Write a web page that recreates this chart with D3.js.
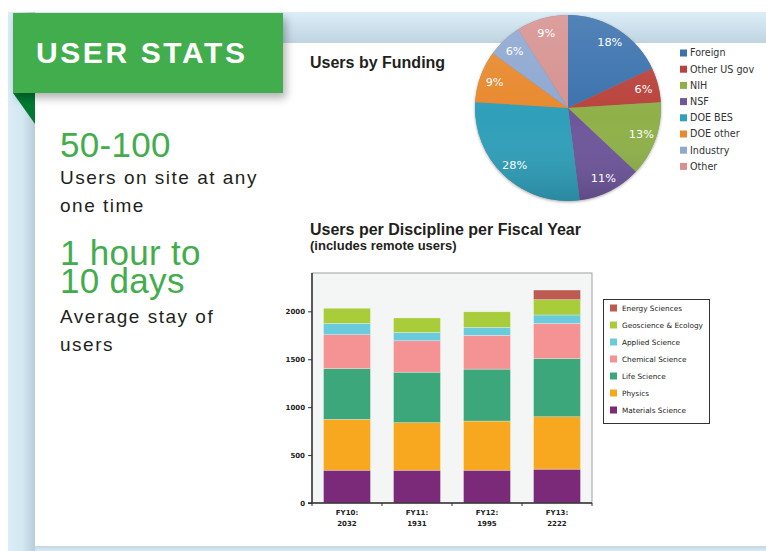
<!DOCTYPE html>
<html>
<head>
<meta charset="utf-8">
<script src="https://cdn.jsdelivr.net/npm/d3@7/dist/d3.min.js"></script>
<style>
  body { margin: 0; background: #fff; }
  svg { display: block; }
</style>
</head>
<body>
<div id="chart"></div>
<script>
// funding pie
const fundingLabels = ["Foreign", "Other US gov", "NIH", "NSF", "DOE BES", "DOE other", "Industry", "Other"]
const fundingShares = [18, 6, 13, 11, 28, 9, 6, 9]
const fundingColors = ["#3b72ae", "#b9433c", "#8fb049", "#6e569b", "#2f9fba", "#e8892e", "#8ea8d1", "#d69290"]

// users per discipline per fiscal year
const years = ["FY10:", "FY11:", "FY12:", "FY13:"]
const yearTotals = ["2032", "1931", "1995", "2222"]
const disciplines = ["Materials Science", "Physics", "Life Science", "Chemical Science", "Applied Science", "Geoscience & Ecology", "Energy Sciences"]
const materialsScience = [342, 342, 342, 353]
const physics = [531, 496, 513, 547]
const lifeScience = [530, 527, 542, 608]
const chemicalScience = [353, 328, 352, 366]
const appliedScience = [118, 87, 84, 88]
const geoscience = [158, 151, 162, 160]
const energySciences = [0, 0, 0, 100]
const disciplineColors = ["#7b2979", "#f8a81f", "#3ba77a", "#f49294", "#69cbdc", "#a9cc3a", "#bd5a52"]
const yTicks = [0, 500, 1000, 1500, 2000]

const W = 766, H = 551
const svg = d3.select("#chart").append("svg")
  .attr("width", W)
  .attr("height", H)

const defs = svg.append("defs")

let topBand = defs.append("linearGradient").attr("id", "topBand").attr("x1", 0).attr("y1", 0).attr("x2", 0).attr("y2", 1)
topBand.append("stop").attr("offset", "0%").attr("stop-color", "#dceef8")
topBand.append("stop").attr("offset", "100%").attr("stop-color", "#bfd4e0")

let leftBand = defs.append("linearGradient").attr("id", "leftBand").attr("x1", 0).attr("y1", 0).attr("x2", 1).attr("y2", 0)
leftBand.append("stop").attr("offset", "0%").attr("stop-color", "#dbeef8")
leftBand.append("stop").attr("offset", "55%").attr("stop-color", "#d3e7f1")
leftBand.append("stop").attr("offset", "100%").attr("stop-color", "#b7cdd9")

let bottomBand = defs.append("linearGradient").attr("id", "bottomBand").attr("x1", 0).attr("y1", 0).attr("x2", 0).attr("y2", 1)
bottomBand.append("stop").attr("offset", "0%").attr("stop-color", "#c2d6e2")
bottomBand.append("stop").attr("offset", "100%").attr("stop-color", "#d8ebf5")

let pieShade = defs.append("linearGradient").attr("id", "pieShade").attr("x1", 0).attr("y1", 0).attr("x2", 0).attr("y2", 1)
pieShade.append("stop").attr("offset", "0%").attr("stop-color", "#fff").attr("stop-opacity", 0.12)
pieShade.append("stop").attr("offset", "55%").attr("stop-color", "#fff").attr("stop-opacity", 0)
pieShade.append("stop").attr("offset", "100%").attr("stop-color", "#000").attr("stop-opacity", 0.14)

defs.append("filter").attr("id", "bannerShadow").attr("x", "-10%").attr("y", "-10%").attr("width", "130%").attr("height", "160%")
  .append("feDropShadow").attr("dx", 3).attr("dy", 5).attr("stdDeviation", 4).attr("flood-color", "#000").attr("flood-opacity", 0.3)

defs.append("filter").attr("id", "pieShadow").attr("x", "-20%").attr("y", "-20%").attr("width", "140%").attr("height", "140%")
  .append("feDropShadow").attr("dx", 0).attr("dy", 1).attr("stdDeviation", 1.5).attr("flood-color", "#000").attr("flood-opacity", 0.35)

// page background
svg.append("rect").attr("x", 35).attr("y", 12).attr("width", W - 35).attr("height", 31).attr("fill", "url(#topBand)")
svg.append("rect").attr("x", 8).attr("y", 12).attr("width", 27).attr("height", H - 12).attr("fill", "url(#leftBand)")
svg.append("rect").attr("x", 35).attr("y", 546).attr("width", W - 35).attr("height", 5).attr("fill", "url(#bottomBand)")
svg.append("rect").attr("x", 35).attr("y", 43).attr("width", W - 35).attr("height", 503).attr("fill", "#fff")

// banner
svg.append("path").attr("d", "M13,93 L35,93 L35,124 Z").attr("fill", "#007a32")
svg.append("rect").attr("x", 13).attr("y", 13).attr("width", 270).attr("height", 80)
  .attr("fill", "#43ad4d").attr("filter", "url(#bannerShadow)")
svg.append("text").attr("x", 36).attr("y", 63)
  .attr("font-family", "Liberation Sans, Arial, sans-serif").attr("font-weight", "bold")
  .attr("font-size", 30).attr("letter-spacing", 2.6).attr("fill", "#fff")
  .text("USER STATS")

// left hand stats
const stats = [
  {text: "50-100", y: 157, big: true},
  {text: "Users on site at any", y: 184},
  {text: "one time", y: 212},
  {text: "1 hour to", y: 265, big: true},
  {text: "10 days", y: 293, big: true},
  {text: "Average stay of", y: 323},
  {text: "users", y: 351}
]
svg.append("g").selectAll("text").data(stats).join("text")
  .attr("x", 60)
  .attr("y", d => d.y)
  .attr("font-family", "Liberation Sans, Arial, sans-serif")
  .attr("font-size", d => d.big ? 35 : 19)
  .attr("letter-spacing", d => d.big ? 0.3 : 1.5)
  .attr("fill", d => d.big ? "#43ad4d" : "#231f20")
  .text(d => d.text)

// pie chart
svg.append("text").attr("x", 310).attr("y", 68)
  .attr("font-family", "Liberation Sans, Arial, sans-serif").attr("font-weight", "bold")
  .attr("font-size", 16).attr("fill", "#231f20")
  .text("Users by Funding")

const pieCx = 568, pieCy = 108, pieR = 93
const pie = d3.pie().sort(null).value(d => d)
const slices = pie(fundingShares)
const arc = d3.arc().innerRadius(0).outerRadius(pieR)
const labelArc = d3.arc().innerRadius(78).outerRadius(78)

const pieG = svg.append("g").attr("transform", `translate(${pieCx},${pieCy})`)
pieG.append("circle").attr("r", pieR).attr("fill", "#888").attr("filter", "url(#pieShadow)")
pieG.selectAll("path.slice").data(slices).join("path")
  .attr("class", "slice")
  .attr("d", arc)
  .attr("fill", (d, i) => fundingColors[i])
pieG.append("circle").attr("r", pieR).attr("fill", "url(#pieShade)")
pieG.selectAll("text").data(slices).join("text")
  .attr("transform", d => `translate(${labelArc.centroid(d)})`)
  .attr("text-anchor", "middle")
  .attr("dy", "0.36em")
  .attr("font-family", "DejaVu Sans, Verdana, sans-serif")
  .attr("font-size", 11.3)
  .attr("fill", "#fff")
  .text(d => d.data + "%")

const pieLegend = svg.append("g").attr("transform", "translate(690,53)")
const pieRows = pieLegend.selectAll("g").data(fundingLabels).join("g")
  .attr("transform", (d, i) => `translate(0,${i * 16.2})`)
pieRows.append("rect").attr("x", -10).attr("y", -3.5).attr("width", 7).attr("height", 7)
  .attr("fill", (d, i) => fundingColors[i])
pieRows.append("text").attr("x", 0).attr("dy", "0.36em")
  .attr("font-family", "DejaVu Sans, Verdana, sans-serif").attr("font-size", 9.6).attr("fill", "#333")
  .text(d => d)

// stacked bars
svg.append("text").attr("x", 310).attr("y", 235)
  .attr("font-family", "Liberation Sans, Arial, sans-serif").attr("font-weight", "bold")
  .attr("font-size", 16).attr("fill", "#231f20")
  .text("Users per Discipline per Fiscal Year")
svg.append("text").attr("x", 310).attr("y", 250)
  .attr("font-family", "Liberation Sans, Arial, sans-serif").attr("font-weight", "bold")
  .attr("font-size", 13).attr("fill", "#231f20")
  .text("(includes remote users)")

const plot = {left: 312, right: 592, top: 273, bottom: 503}
const series = [materialsScience, physics, lifeScience, chemicalScience, appliedScience, geoscience, energySciences]
const table = years.map((y, i) => {
  let row = {year: y}
  disciplines.forEach((name, k) => row[name] = series[k][i])
  return row
})

const x = d3.scaleBand().domain(years).range([plot.left, plot.right]).paddingInner(0.33).paddingOuter(0.165)
const y = d3.scaleLinear().domain([0, 2400]).range([plot.bottom, plot.top])

svg.append("rect").attr("x", plot.left).attr("y", plot.top)
  .attr("width", plot.right - plot.left).attr("height", plot.bottom - plot.top)
  .attr("fill", "#f4f6f6").attr("stroke", "#a0a0a0").attr("stroke-width", 1)

const stacked = d3.stack().keys(disciplines)(table)
svg.append("g").selectAll("g").data(stacked).join("g")
  .attr("fill", (d, i) => disciplineColors[i])
  .selectAll("rect").data(d => d.filter(p => p[1] > p[0])).join("rect")
  .attr("x", d => x(d.data.year))
  .attr("y", d => y(d[1]))
  .attr("width", x.bandwidth())
  .attr("height", d => y(d[0]) - y(d[1]))
  .attr("stroke", "#ffffff").attr("stroke-opacity", 0.45).attr("stroke-width", 0.6)

const yAxis = svg.append("g").attr("transform", `translate(${plot.left},0)`)
  .call(d3.axisLeft(y).tickValues(yTicks).tickFormat(d3.format("d")).tickSize(4).tickPadding(3))
yAxis.select(".domain").attr("d", `M0,${plot.top}V${plot.bottom}`).attr("stroke", "#333").attr("stroke-width", 1.5)
yAxis.selectAll(".tick line").attr("stroke", "#333")
yAxis.selectAll(".tick text")
  .attr("font-family", "DejaVu Sans, Verdana, sans-serif").attr("font-weight", "bold")
  .attr("font-size", 7).attr("fill", "#222")

const xAxis = svg.append("g").attr("transform", `translate(0,${plot.bottom})`)
xAxis.append("line").attr("x1", plot.left - 4).attr("x2", plot.right)
  .attr("stroke", "#333").attr("stroke-width", 1.5)
const bounds = years.map(d => x(d) - x.step() * x.paddingInner() / 2).concat([plot.right])
xAxis.selectAll("line.tick").data(bounds).join("line")
  .attr("class", "tick")
  .attr("x1", d => d).attr("x2", d => d).attr("y1", 0).attr("y2", 3)
  .attr("stroke", "#333")
const xLabels = xAxis.selectAll("text").data(years).join("text")
  .attr("x", d => x(d) + x.bandwidth() / 2)
  .attr("text-anchor", "middle")
  .attr("font-family", "DejaVu Sans, Verdana, sans-serif").attr("font-weight", "bold")
  .attr("font-size", 7).attr("fill", "#222")
xLabels.append("tspan").attr("x", d => x(d) + x.bandwidth() / 2).attr("y", 12).text(d => d)
xLabels.append("tspan").attr("x", d => x(d) + x.bandwidth() / 2).attr("y", 23).text((d, i) => yearTotals[i])

// bar legend
svg.append("rect").attr("x", 603.5).attr("y", 299.5).attr("width", 106).attr("height", 124)
  .attr("fill", "#fff").attr("stroke", "#333").attr("stroke-width", 1)
const barLegend = svg.append("g").attr("transform", "translate(610,308)")
const legendOrder = disciplines.map((d, i) => i).reverse()
const barRows = barLegend.selectAll("g").data(legendOrder).join("g")
  .attr("transform", (d, i) => `translate(0,${i * 17})`)
barRows.append("rect").attr("x", 0).attr("y", -3.5).attr("width", 7).attr("height", 7)
  .attr("fill", d => disciplineColors[d])
barRows.append("text").attr("x", 12).attr("dy", "0.36em")
  .attr("font-family", "DejaVu Sans, Verdana, sans-serif").attr("font-size", 7.3).attr("fill", "#222")
  .text(d => disciplines[d])
</script>
</body>
</html>
